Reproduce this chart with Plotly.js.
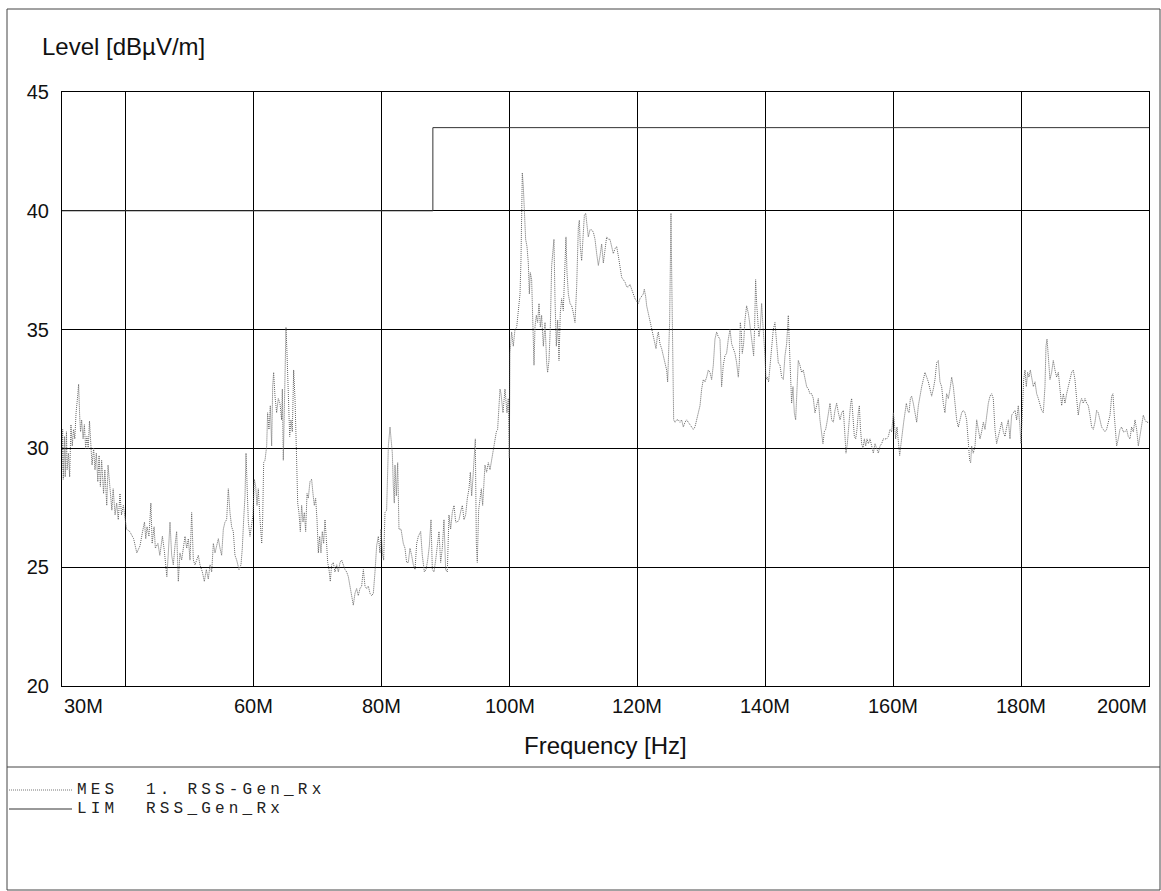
<!DOCTYPE html>
<html><head><meta charset="utf-8">
<script src="https://cdn.plot.ly/plotly-3.0.1.min.js"></script>
<style>html,body{margin:0;padding:0;background:#fff}#chart{width:1161px;height:891px}</style>
</head><body><div id="chart"></div>
<script>
// Measured trace (MHz, dBuV/m)
const mesFreq = [
30.0,30.1,30.2,30.4,30.5,30.7,30.8,31.0,31.2,31.4,31.6,31.8,32.0,32.2,32.45,32.6,32.76,32.9,33.07,33.3,33.5,33.7,33.9,34.1,34.3,34.5,34.7,34.95,35.16,35.37,35.6,35.8,36.0,36.2,36.5,36.7,37.0,37.2,37.5,37.8,38.0,38.3,38.55,38.8,39.07,39.3,39.6,39.85,40.1,40.6,41.2,41.7,42.2,42.6,42.9,43.1,43.3,43.6,43.9,44.1,44.4,44.6,45.0,45.3,45.7,46.0,46.4,
46.63,46.89,47.15,47.41,47.67,47.93,48.19,48.45,48.71,48.97,49.24,49.5,49.76,50.02,50.28,50.54,50.8,51.06,51.32,51.58,51.95,52.26,52.57,52.88,53.15,53.41,53.67,53.93,54.19,54.45,54.71,54.97,55.23,55.49,55.75,56.01,56.27,56.53,56.79,57.05,57.32,57.68,57.99,58.2,58.41,58.62,58.78,58.93,59.14,59.4,59.66,59.87,60.08,60.29,60.5,60.7,60.97,61.23,61.38,61.54,61.75,62.01,62.16,62.37,62.58,62.79,62.95,63.1,63.31,63.57,63.83,
64.09,64.35,64.46,64.61,64.87,65.03,65.19,65.4,65.61,65.81,66.02,66.23,66.44,66.65,66.86,67.06,67.27,67.48,67.69,67.9,68.11,68.32,68.52,68.78,69.04,69.25,69.46,69.67,69.88,70.09,70.3,70.5,70.71,70.92,71.13,71.34,71.55,71.76,71.96,72.17,72.43,72.69,72.96,73.22,73.48,73.74,74.0,74.26,74.52,74.78,75.04,75.3,75.56,75.82,76.08,76.34,76.6,76.86,77.13,77.39,77.65,77.91,78.17,78.43,78.69,78.95,79.21,79.47,79.73,79.89,80.1,80.31,80.51,
80.77,81.04,81.3,81.45,81.66,81.82,81.97,82.08,82.29,82.5,82.7,83.02,83.38,83.64,83.9,84.16,84.42,84.68,84.95,85.21,85.47,85.73,86.09,86.35,86.67,86.93,87.19,87.45,87.71,87.92,88.18,88.44,88.7,88.96,89.22,89.48,89.74,90.0,90.26,90.52,90.78,91.04,91.31,91.57,91.83,92.09,92.4,92.61,92.87,93.13,93.39,93.65,93.86,94.07,94.28,94.49,94.64,94.8,94.95,95.16,95.37,95.58,95.79,96.0,96.15,96.41,96.67,96.94,97.2,97.46,97.72,97.93,98.13,98.34,98.5,
98.66,98.97,99.28,99.59,99.8,99.95,100.06,100.32,100.58,100.84,101.11,101.37,101.63,101.78,101.89,101.99,102.15,102.3,102.51,102.72,102.93,103.09,103.24,103.45,103.66,103.82,103.97,104.18,104.39,104.6,104.81,105.01,105.28,105.54,105.8,105.95,106.16,106.37,106.58,106.79,106.94,107.1,107.31,107.52,107.73,107.93,108.14,108.4,108.66,108.82,108.98,109.19,109.45,109.71,109.97,110.23,110.49,110.75,110.91,111.06,111.27,111.53,111.69,111.9,112.05,112.31,112.57,112.83,113.1,113.36,113.62,113.88,114.14,114.4,114.66,114.92,115.18,115.44,
115.7,115.96,116.22,116.48,116.74,117.01,117.27,117.53,117.79,118.05,118.31,118.57,118.83,119.09,119.35,119.61,119.87,120.13,120.39,120.65,120.91,121.07,121.28,121.44,121.7,121.96,122.22,122.48,122.74,122.9,123.1,123.26,123.52,123.78,124.04,124.3,124.56,124.72,124.88,125.03,125.14,125.24,125.35,125.45,125.55,125.66,125.87,126.13,126.39,126.65,126.91,127.17,127.43,127.69,127.95,128.21,128.47,128.73,128.99,129.26,129.52,129.78,130.04,130.3,130.56,130.82,131.08,131.34,131.6,131.86,132.12,132.38,132.64,
132.9,133.16,133.42,133.68,133.94,134.21,134.47,134.73,134.99,135.25,135.51,135.77,135.93,136.08,136.24,136.39,136.6,136.81,137.07,137.33,137.54,137.75,137.96,138.17,138.32,138.48,138.64,138.79,139.0,139.21,139.42,139.57,139.78,139.94,140.1,140.3,140.51,140.72,140.98,141.24,141.5,141.76,142.02,142.29,142.55,142.81,143.07,143.33,143.59,143.75,143.9,144.11,144.32,144.53,144.74,144.94,145.15,145.41,145.67,145.93,146.2,146.46,146.72,146.98,147.24,147.5,147.76,148.02,148.28,148.54,148.8,149.01,149.22,149.43,149.64,149.84,150.05,
150.11,150.37,150.63,150.89,151.15,151.42,151.68,151.94,152.2,152.46,152.61,152.82,153.08,153.34,153.5,153.71,153.92,154.13,154.33,154.54,154.7,154.86,155.06,155.27,155.48,155.69,155.9,156.11,156.37,156.63,156.89,157.15,157.41,157.67,157.93,158.19,158.45,158.71,158.97,159.23,159.5,159.76,160.02,160.17,160.38,160.59,160.8,161.01,161.22,161.42,161.63,161.84,162.05,162.26,162.47,162.68,162.88,163.14,163.41,163.67,163.93,164.19,164.45,164.71,164.97,165.23,165.49,165.75,166.01,166.27,
166.53,166.79,167.05,167.31,167.57,167.83,168.09,168.35,168.62,168.88,169.14,169.4,169.66,169.92,170.18,170.44,170.7,170.96,171.22,171.48,171.74,171.95,172.11,172.26,172.52,172.79,173.05,173.31,173.57,173.83,174.09,174.35,174.61,174.87,175.13,175.39,175.65,175.91,176.17,176.43,176.7,176.96,177.22,177.48,177.74,178.0,178.26,178.52,178.78,179.04,179.3,179.56,179.82,179.98,180.19,180.4,180.61,180.81,181.02,181.23,181.44,181.65,181.91,182.17,182.43,182.69,182.95,183.21,183.47,183.73,183.89,184.05,184.25,184.51,
184.77,185.03,185.29,185.55,185.82,186.08,186.34,186.6,186.86,187.12,187.38,187.64,187.9,188.16,188.42,188.68,188.94,189.2,189.46,189.72,189.99,190.25,190.51,190.77,191.03,191.29,191.55,191.81,192.07,192.33,192.59,192.85,193.11,193.37,193.63,193.9,194.16,194.36,194.57,194.78,194.94,195.2,195.46,195.72,195.98,196.24,196.5,196.76,197.02,197.28,197.55,197.81,198.07,198.33,198.59,198.85,199.11,199.37,199.63,199.89
];
const mesLevel = [
29.1,30.8,28.7,30.5,28.8,30.7,29.1,29.8,28.8,31.0,30.1,30.8,30.4,31.5,32.2,32.7,31.4,30.7,31.2,30.4,31.0,30.0,30.5,30.0,31.15,30.1,29.3,30.0,29.1,29.8,28.6,29.7,28.4,29.5,28.1,29.1,27.6,29.3,28.4,27.4,28.3,27.2,27.7,27.0,28.1,27.2,27.6,27.0,26.6,26.5,26.2,25.6,25.9,26.5,26.9,26.2,26.7,26.3,27.7,26.0,26.7,25.8,26.0,25.5,26.3,25.7,24.6,
25.6,26.9,25.5,25.1,25.9,26.5,24.4,25.6,25.3,25.8,26.3,25.8,26.2,25.3,27.3,25.3,25.1,25.3,25.5,25.1,24.8,24.4,24.9,24.5,25.1,24.8,26.0,25.6,25.9,26.2,25.8,25.5,26.6,26.9,27.0,28.3,27.3,26.7,26.5,25.5,25.3,24.9,25.1,25.8,27.0,28.0,29.8,28.8,26.9,26.3,26.7,27.2,28.7,28.4,27.6,28.3,27.0,26.0,27.0,29.4,29.5,30.1,31.5,30.8,31.8,30.1,32.6,33.2,32.2,31.5,32.1,
31.9,31.2,32.5,29.5,33.3,35.1,34.0,32.2,30.5,31.2,30.7,33.3,32.1,30.0,27.7,27.3,26.5,27.6,26.9,27.3,26.5,28.1,27.9,28.6,28.7,28.1,27.6,27.9,27.0,25.6,26.3,25.6,26.5,26.0,27.0,26.2,25.2,24.9,24.4,25.1,25.2,24.8,25.1,24.8,25.2,25.3,25.1,24.9,24.8,24.6,24.2,23.8,23.4,23.9,24.1,23.8,24.1,24.2,24.9,24.2,24.1,24.2,23.9,23.8,23.9,24.8,25.9,26.3,25.6,26.6,25.6,25.3,27.3,
27.4,30.1,30.9,30.5,29.8,28.4,27.7,29.3,28.0,29.4,26.6,26.6,26.0,25.8,25.2,25.2,25.8,25.5,25.1,24.9,26.0,26.3,26.5,25.5,24.8,24.9,25.3,25.9,27.0,24.9,24.8,25.3,25.9,26.5,25.2,25.8,27.0,24.9,24.8,27.2,26.6,27.3,27.6,26.9,26.9,27.0,27.4,27.6,27.0,27.2,27.9,28.3,29.0,28.0,28.8,29.7,30.4,26.0,25.2,27.4,28.0,28.3,27.6,28.8,29.3,29.0,29.4,29.1,29.5,29.8,30.2,30.7,30.8,31.9,32.5,
32.3,31.5,32.5,31.5,32.1,29.6,34.0,34.9,34.3,35.0,35.1,35.7,36.5,37.9,39.9,41.6,41.0,39.8,38.8,38.5,37.8,36.5,37.4,37.1,35.4,33.5,35.1,35.6,35.3,36.1,35.1,35.6,34.3,35.3,33.6,33.2,33.7,35.1,37.7,38.2,38.8,36.3,34.3,35.4,33.7,35.7,36.3,35.8,37.9,38.9,37.4,36.5,36.1,36.0,35.7,35.3,36.8,39.3,39.6,38.5,37.9,39.1,39.8,39.9,39.5,38.9,39.2,39.2,39.1,38.8,38.2,37.7,38.1,38.6,37.8,38.4,38.9,38.8,
38.8,38.5,38.2,38.4,38.5,38.1,37.7,37.2,37.1,37.0,36.8,36.8,36.9,36.7,36.5,36.3,36.2,36.1,36.3,36.4,36.5,36.7,36.4,36.0,35.7,35.3,35.0,34.7,34.4,34.2,34.7,34.9,34.4,34.2,33.9,33.6,33.3,32.8,33.9,35.3,37.7,39.9,37.4,35.3,33.2,31.2,31.1,31.2,31.2,31.1,31.2,30.9,31.1,31.2,31.1,31.0,30.9,30.8,30.9,31.2,31.5,31.8,32.5,32.9,32.8,33.0,33.3,33.2,32.9,33.5,34.6,34.9,34.7,
34.6,32.6,33.5,33.9,34.0,34.6,35.0,34.4,34.2,34.0,33.6,33.0,33.6,35.3,34.9,34.0,34.4,35.4,36.0,35.7,35.3,34.9,34.4,33.9,35.1,37.1,36.1,35.4,34.7,35.1,36.1,35.4,34.7,33.9,32.9,33.0,32.8,33.5,34.3,35.0,35.3,34.3,33.6,33.5,33.0,32.9,33.9,34.4,35.6,34.4,33.5,31.9,32.6,31.5,31.2,32.6,33.7,33.5,33.2,33.3,32.9,32.6,32.5,32.3,32.3,32.1,31.5,31.8,32.1,31.2,30.5,30.2,30.7,30.8,31.1,31.5,31.8,
31.9,31.2,31.1,31.6,31.9,31.5,31.2,31.5,31.6,30.5,29.8,30.2,31.1,31.9,32.1,31.2,30.5,30.4,30.8,31.5,31.8,30.9,30.2,30.0,30.4,30.1,30.4,30.2,30.4,30.1,29.8,30.2,30.0,29.8,30.1,30.2,30.4,30.4,30.4,30.5,30.8,30.7,31.5,31.1,30.4,30.9,30.1,29.7,30.2,30.8,31.1,31.5,31.9,31.6,31.5,32.1,32.2,31.9,31.5,31.1,31.8,32.3,32.6,32.9,33.2,33.0,32.8,32.5,32.2,32.5,
32.9,33.6,33.7,32.8,32.6,31.9,31.5,32.3,32.1,32.5,33.0,32.6,31.8,31.2,30.9,31.2,31.5,31.6,31.5,31.2,30.1,29.5,29.4,30.1,29.8,30.1,31.2,30.8,30.4,30.7,31.1,30.8,31.4,31.9,32.2,32.3,32.1,30.8,30.2,30.5,30.9,31.1,30.7,30.5,30.9,31.2,30.4,31.4,31.5,31.6,31.2,31.8,30.9,30.2,31.5,32.9,33.3,32.6,33.2,33.0,33.3,32.9,32.6,32.8,32.3,32.1,31.8,31.6,31.5,32.6,34.3,34.6,33.9,32.9,
33.2,33.7,33.3,33.0,33.2,32.5,31.8,32.3,31.9,32.3,32.6,32.9,33.2,33.3,32.9,32.1,31.4,31.9,32.1,31.9,32.1,31.9,31.8,31.4,30.9,30.8,31.1,31.6,31.5,31.2,30.9,30.8,30.7,30.8,31.1,31.4,32.2,32.3,31.4,30.7,30.1,30.4,30.8,30.9,30.7,30.7,30.8,30.5,30.4,30.9,30.7,31.2,30.8,30.1,30.5,30.9,31.4,31.2,31.1,31.1
];
// Limit line
const limFreq = [30, 88, 88, 200];
const limLevel = [40, 40, 43.5, 43.5];
// Axis labels
const xLabelVals = [30, 60, 80, 100, 120, 140, 160, 180, 200];
const xLabelText = ['30M', '60M', '80M', '100M', '120M', '140M', '160M', '180M', '200M'];
const xGridVals = [40, 60, 80, 100, 120, 140, 160, 180];
const yTickVals = [20, 25, 30, 35, 40, 45];
const yTickText = ['20', '25', '30', '35', '40', '45'];
const legendNames = ['MES\u00a0\u00a01.\u00a0RSS-Gen_Rx', 'LIM\u00a0\u00a0RSS_Gen_Rx'];

const L = 62, R = 1149, T = 92, B = 686, W = R - L, H = B - T;
const px = x => (x - L) / W;
const py = y => (B - y) / H;
const sans = 'Liberation Sans, Arial, sans-serif';
const mono = 'Liberation Mono, Courier New, monospace';

const traces = [
  {x: mesFreq, y: mesLevel, mode: 'lines', type: 'scatter', hoverinfo: 'skip',
   line: {color: '#666', width: 1, dash: '1px,1px'}},
  {x: limFreq, y: limLevel, mode: 'lines', type: 'scatter', hoverinfo: 'skip',
   line: {color: '#333', width: 1}}
];

const annotations = xLabelVals.map((v, i) => ({
  x: v, xref: 'x', y: 0, yref: 'paper', yshift: -7, yanchor: 'top',
  xanchor: i === 0 ? 'left' : (i === xLabelVals.length - 1 ? 'right' : 'center'),
  text: xLabelText[i], showarrow: false, font: {family: sans, size: 20, color: '#111'}
}));
annotations.push({x: 0.5, xref: 'paper', y: py(745), yref: 'paper', yanchor: 'middle', xanchor: 'center',
  text: 'Frequency [Hz]', showarrow: false, font: {family: sans, size: 24, color: '#111'}});
annotations.push({x: px(40), xref: 'paper', y: py(46), yref: 'paper', yanchor: 'middle', xanchor: 'left',
  text: 'Level [dBµV/m]', showarrow: false, font: {family: sans, size: 24, color: '#111'}});
legendNames.forEach((n, i) => annotations.push({
  x: px(76), xref: 'paper', y: py(790 + i * 19), yref: 'paper', xanchor: 'left', yanchor: 'middle',
  text: '<span style="letter-spacing:4.2px">' + n + '</span>', showarrow: false, borderpad: 0,
  font: {family: mono, size: 16, color: '#222'}
}));

const shapes = [
  {type: 'rect', xref: 'paper', yref: 'paper', x0: px(7), x1: px(1160), y0: py(9), y1: py(890),
   line: {color: '#444', width: 1}},
  {type: 'line', xref: 'paper', yref: 'paper', x0: px(7), x1: px(1160), y0: py(767), y1: py(767),
   line: {color: '#444', width: 1}},
  {type: 'line', xref: 'paper', yref: 'paper', x0: px(9), x1: px(72), y0: py(790), y1: py(790),
   line: {color: '#777', width: 1, dash: '1px,1px'}},
  {type: 'line', xref: 'paper', yref: 'paper', x0: px(9), x1: px(72), y0: py(809), y1: py(809),
   line: {color: '#333', width: 1}}
];

const layout = {
  width: 1161, height: 891, showlegend: false,
  paper_bgcolor: '#fff', plot_bgcolor: '#fff',
  margin: {l: L, r: 1161 - R, t: T, b: 891 - B, pad: 0},
  xaxis: {range: [30, 200], tickvals: xGridVals, showticklabels: false, ticks: '',
    showgrid: true, gridcolor: '#000', gridwidth: 1, zeroline: false,
    showline: true, mirror: true, linecolor: '#000', linewidth: 1},
  yaxis: {range: [20, 45], tickvals: yTickVals, ticktext: yTickText, ticks: '',
    ticklabelstandoff: 8,
    tickfont: {family: sans, size: 20, color: '#111'},
    showgrid: true, gridcolor: '#000', gridwidth: 1, zeroline: false,
    showline: true, mirror: true, linecolor: '#000', linewidth: 1},
  annotations: annotations, shapes: shapes
};

Plotly.newPlot('chart', traces, layout, {staticPlot: true, displayModeBar: false});
</script>
</body></html>
